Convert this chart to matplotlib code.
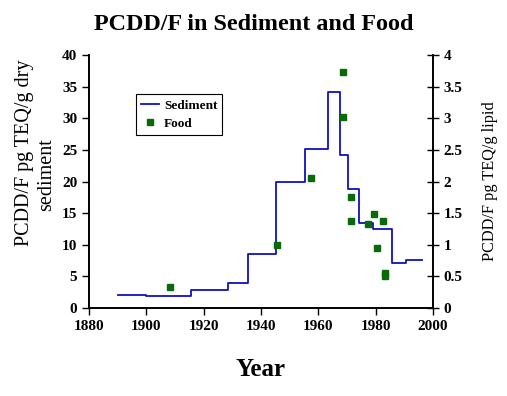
import numpy as np
import matplotlib.pyplot as plt

plt.rcParams['font.family'] = 'Liberation Serif'
plt.rcParams['font.weight'] = 'bold'

# sediment record (step line, value holds until next year)
sed_year = [1890, 1900, 1915.5, 1928.6, 1935.3, 1945.3, 1955.2, 1963.4, 1967.4, 1970.3, 1974.3, 1979.2, 1985.6, 1990.5, 1996]
sed_val = [2.0, 1.85, 2.9, 3.9, 8.5, 20.0, 25.2, 34.2, 24.2, 18.8, 13.4, 12.5, 7.1, 7.6, 7.6]

# food samples (right axis)
food_year = [1908.3, 1945.5, 1957.4, 1968.5, 1968.5, 1971.4, 1971.4, 1977.3, 1979.4, 1982.4, 1980.3, 1983.4, 1983.4]
food_val = [0.34, 0.99, 2.06, 3.73, 3.02, 1.76, 1.37, 1.33, 1.48, 1.37, 0.95, 0.56, 0.51]

fig = plt.figure(figsize=(5.07, 3.96), dpi=100)
ax = fig.add_axes([0.1755, 0.222, 0.6785, 0.639])
ax2 = ax.twinx()

ln, = ax.step(sed_year, sed_val, where='post', color='#1010c0', lw=1.3, label='Sediment')
pt, = ax2.plot(food_year, food_val, 's', color='#0a6a0a', ms=4, label='Food')

ax.set_xlim(1880, 2000)
ax.set_ylim(0, 40)
ax2.set_ylim(0, 4)
ax.set_xticks(np.arange(1880, 2001, 20))
ax.set_yticks(np.arange(0, 41, 5))
ax2.set_yticks([0, 0.5, 1, 1.5, 2, 2.5, 3, 3.5, 4])
ax2.set_yticklabels(['0', '0.5', '1', '1.5', '2', '2.5', '3', '3.5', '4'])

for a in (ax, ax2):
    a.spines['top'].set_visible(False)
    for s in a.spines.values():
        s.set_linewidth(1.2)
ax.tick_params(axis='both', labelsize=11, length=5, width=1)
ax.tick_params(axis='y', direction='out')
ax2.tick_params(axis='y', labelsize=11, direction='inout', length=8, width=1)

ax.set_xlabel('Year', fontsize=18, fontweight='bold', labelpad=18)
# left label: two lines placed by hand like the original
fig.text(25 / 507, 1 - 153 / 396, 'PCDD/F pg TEQ/g dry', rotation=90, fontsize=14.5,
         fontweight='normal', ha='center', va='center')
fig.text(47 / 507, 1 - 175 / 396, 'sediment', rotation=90, fontsize=14.5,
         fontweight='normal', ha='center', va='center')
ax2.set_ylabel('PCDD/F pg TEQ/g lipid', fontsize=11.7, fontweight='normal', labelpad=14)
fig.suptitle('PCDD/F in Sediment and Food', fontsize=17.4, fontweight='bold', y=0.965)

leg = ax.legend([ln, pt], ['Sediment', 'Food'], loc='upper left', bbox_to_anchor=(0.137, 0.846),
                borderaxespad=0, fontsize=9.5, fancybox=False, edgecolor='black', framealpha=1,
                handlelength=1.3, handletextpad=0.4, borderpad=0.4, labelspacing=0.45)
leg.get_frame().set_linewidth(0.8)

fig.savefig('out.png', dpi=100)
